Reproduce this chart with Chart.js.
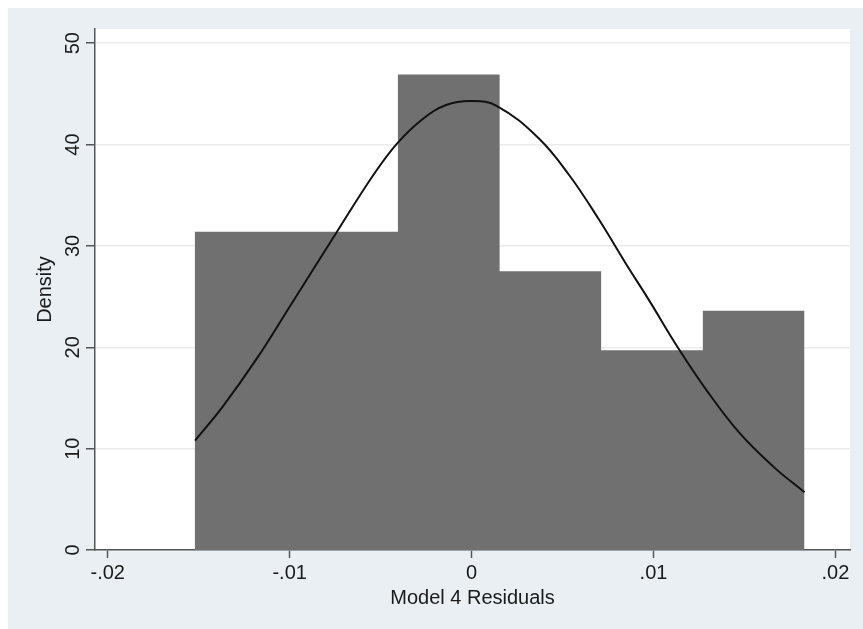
<!DOCTYPE html>
<html>
<head>
<meta charset="utf-8">
<script src="https://cdn.jsdelivr.net/npm/chart.js@4"></script>
<style>
  body { margin: 0; background: #fff; }
</style>
</head>
<body>
<canvas id="residuals" width="863" height="629"></canvas>
<script>
// Histogram of the residuals: bin edges and the density of each bin.
const binEdges = [-0.01522, -0.00963, -0.00405, 0.00154, 0.00712, 0.01271, 0.01830];
const binDensity = [31.4, 31.4, 46.9, 27.5, 19.7, 23.6];

// Normal density overlay.
const curveX = [-0.0152, -0.0137, -0.0118, -0.0100, -0.0074, -0.0054, -0.0041, -0.0027, -0.0014, 0.0000, 0.0014,
                0.0037, 0.0054, 0.0070, 0.0085, 0.0097, 0.0114, 0.0129, 0.0147, 0.0166, 0.0183];
const curveY = [10.8, 14.1, 18.9, 24.0, 31.4, 37.0, 40.1, 42.5, 43.9, 44.3, 43.8,
                40.6, 36.9, 32.6, 28.2, 24.8, 19.8, 15.8, 11.6, 8.2, 5.7];

// Axis ticks.
const xTickValues = [-0.02, -0.01, 0, 0.01, 0.02];
const xTickLabels = ["-.02", "-.01", "0", ".01", ".02"];
const yTickValues = [0, 10, 20, 30, 40, 50];
const yTickLabels = ["0", "10", "20", "30", "40", "50"];

const axisFont = {family: "Arial, 'Liberation Sans', Helvetica, sans-serif", size: 20};
const textColor = "#1a1a1a";
const axisColor = "#555";

// Plugin to paint the Stata-like outer panel and the white plot region.
const stataBackground = {
    id: "stataBackground",
    beforeDraw(chart) {
        const {ctx, chartArea} = chart;
        ctx.save();
        ctx.fillStyle = "#fff";
        ctx.fillRect(0, 0, chart.width, chart.height);
        ctx.fillStyle = "#e9eff2";
        ctx.fillRect(8, 8, chart.width - 8, chart.height - 8);
        ctx.fillStyle = "#fff";
        ctx.fillRect(chartArea.left, chartArea.top, chartArea.right - chartArea.left, chartArea.bottom - chartArea.top);
        ctx.restore();
    }
};

// Histogram as a stepped, filled line so adjacent bins join without seams.
const histPoints = binEdges.map((e, i) => ({x: e, y: binDensity[Math.min(i, binDensity.length - 1)]}));
const curvePoints = curveX.map((x, i) => ({x: x, y: curveY[i]}));

new Chart(document.getElementById("residuals"), {
    type: "line",
    data: {
        datasets: [
            {
                label: "Normal density",
                data: curvePoints,
                borderColor: "#111",
                borderWidth: 2,
                pointRadius: 0,
                fill: false,
                tension: 0.4,
                order: 0,
            },
            {
                label: "Density",
                data: histPoints,
                stepped: true,
                borderWidth: 0,
                borderColor: "rgba(0,0,0,0)",
                backgroundColor: "#707070",
                pointRadius: 0,
                fill: "origin",
                order: 1,
            },
        ]
    },
    options: {
        responsive: false,
        animation: false,
        layout: {
            padding: {top: 29, right: 13, left: 0, bottom: 0}
        },
        plugins: {
            legend: {display: false},
            tooltip: {enabled: false},
        },
        scales: {
            x: {
                type: "linear",
                min: -0.0207,
                max: 0.0208,
                afterBuildTicks: scale => {
                    scale.ticks = xTickValues.map(v => ({value: v}));
                },
                afterFit: scale => {
                    scale.height = 79;
                },
                ticks: {
                    font: axisFont,
                    color: textColor,
                    padding: 3,
                    maxRotation: 0,
                    callback: (value, index) => xTickLabels[index],
                },
                grid: {
                    drawOnChartArea: false,
                    tickLength: 8,
                    tickColor: axisColor,
                    tickWidth: 1.5,
                },
                border: {display: true, color: axisColor, width: 1.5},
                title: {
                    display: true,
                    text: "Model 4 Residuals",
                    font: axisFont,
                    color: textColor,
                    padding: {top: 0, bottom: 19},
                },
            },
            y: {
                type: "linear",
                min: 0,
                max: 51.4,
                afterBuildTicks: scale => {
                    scale.ticks = yTickValues.map(v => ({value: v}));
                },
                afterFit: scale => {
                    scale.width = 95;
                },
                ticks: {
                    font: axisFont,
                    color: textColor,
                    padding: 1,
                    minRotation: 90,
                    maxRotation: 90,
                    crossAlign: "center",
                    callback: (value, index) => yTickLabels[index],
                },
                grid: {
                    color: "#ebebeb",
                    lineWidth: 1.5,
                    tickLength: 9,
                    tickColor: axisColor,
                    tickWidth: 1.5,
                },
                border: {display: true, color: axisColor, width: 1.5},
                title: {
                    display: true,
                    text: "Density",
                    font: axisFont,
                    color: textColor,
                    padding: {top: 33, bottom: 0},
                },
            },
        },
    },
    plugins: [stataBackground],
});
</script>
</body>
</html>
